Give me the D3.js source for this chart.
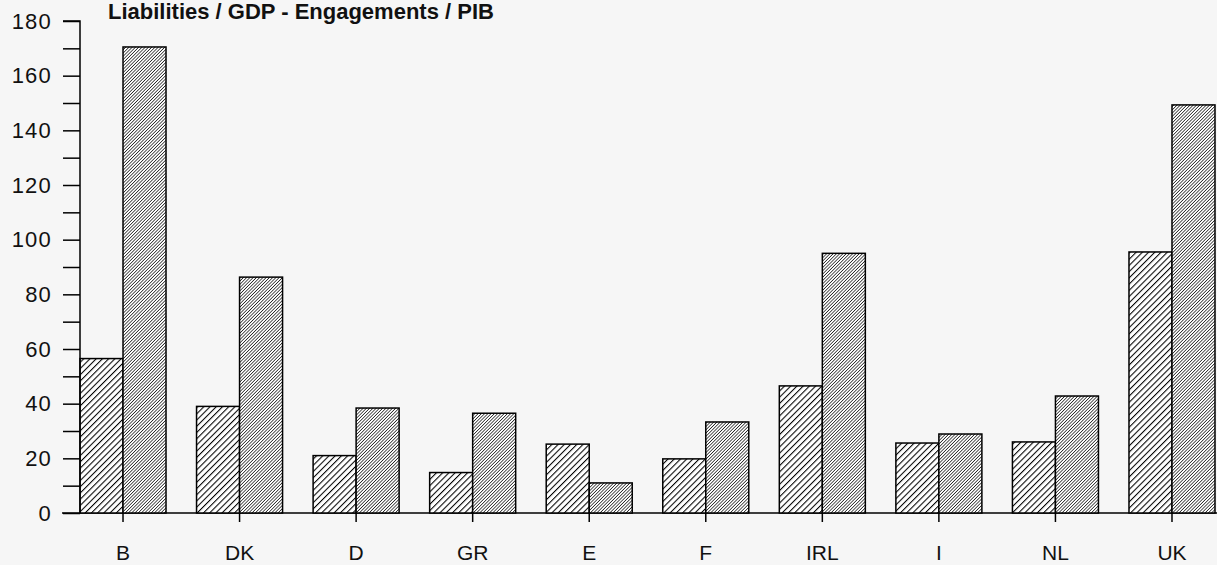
<!DOCTYPE html>
<html>
<head>
<meta charset="utf-8">
<script src="https://cdn.jsdelivr.net/npm/d3@7"></script>
<style>
  html, body { margin: 0; padding: 0; background: #f6f6f6; }
  svg { display: block; }
</style>
</head>
<body>
<svg id="chart" width="1217" height="565"></svg>
<script>
const categories = ["B", "DK", "D", "GR", "E", "F", "IRL", "I", "NL", "UK"];
const seriesA = [56.5, 39, 21, 14.8, 25.2, 19.8, 46.5, 25.6, 26, 95.5];
const seriesB = [170.5, 86.3, 38.4, 36.5, 11, 33.3, 95, 28.9, 42.8, 149.3];
const yTicks = [0, 20, 40, 60, 80, 100, 120, 140, 160, 180];
const minorTicks = [10, 30, 50, 70, 90, 110, 130, 150, 170];
const titleText = "Liabilities / GDP - Engagements / PIB";

const svg = d3.select("#chart");
const W = 1217, H = 565;
const x0 = 80, x1 = 1215, yBase = 513, yTop = 21;
const FONT = "Liberation Sans, Arial, Helvetica, sans-serif";

const defs = svg.append("defs");
function hatch(id, period, sw) {
  const p = defs.append("pattern")
    .attr("id", id)
    .attr("patternUnits", "userSpaceOnUse")
    .attr("width", period).attr("height", period)
    .attr("patternTransform", "rotate(45)");
  p.append("rect").attr("width", period).attr("height", period).attr("fill", "#fff");
  p.append("line").attr("x1", 0).attr("y1", 0).attr("x2", 0).attr("y2", period)
    .attr("stroke", "#000").attr("stroke-width", sw);
}
hatch("hA", 4.4, 2.1);
hatch("hB", 2.3, 1.3);

const x = d3.scaleBand().domain(categories).range([x0, x1]).paddingInner(0.262).paddingOuter(0);
const xs = d3.scaleBand().domain(["a", "b"]).range([0, x.bandwidth()]);
const y = d3.scaleLinear().domain([0, 180]).range([yBase, yTop]);

// baseline
svg.append("line").attr("x1", 62).attr("x2", W).attr("y1", yBase).attr("y2", yBase)
  .attr("stroke", "#000").attr("stroke-width", 1.5);

// bars
const g = svg.append("g");
categories.forEach((c, i) => {
  [["a", seriesA[i], "url(#hA)"], ["b", seriesB[i], "url(#hB)"]].forEach(([k, v, f]) => {
    g.append("rect")
      .attr("x", x(c) + xs(k))
      .attr("y", y(v))
      .attr("width", xs.bandwidth())
      .attr("height", y(0) - y(v))
      .attr("fill", f)
      .attr("stroke", "#000")
      .attr("stroke-width", 1.5);
  });
});

// y axis
const yAxis = d3.axisLeft(y).tickValues(yTicks).tickSize(17).tickPadding(11);
const ya = svg.append("g").attr("transform", `translate(${x0},0)`).call(yAxis);
ya.select(".domain").attr("stroke", "#000").attr("stroke-width", 1.5).attr("d", `M-17,${yTop}H0V${yBase}`);
ya.selectAll(".tick line").attr("stroke", "#000").attr("stroke-width", 1.5);
ya.selectAll(".tick text").attr("font-family", FONT)
  .attr("font-size", 22).attr("letter-spacing", 1.2).attr("fill", "#111");
const yMinor = d3.axisLeft(y).tickValues(minorTicks).tickSize(17).tickFormat("");
const ym = svg.append("g").attr("transform", `translate(${x0},0)`).call(yMinor);
ym.select(".domain").remove();
ym.selectAll(".tick line").attr("stroke", "#000").attr("stroke-width", 1.5);

// x axis
const xAxis = d3.axisBottom(x).tickSize(9).tickPadding(23);
const xa = svg.append("g").attr("transform", `translate(0,${yBase})`).call(xAxis);
xa.select(".domain").remove();
xa.selectAll(".tick line").attr("stroke", "#000").attr("stroke-width", 1.5);
xa.selectAll(".tick text").attr("font-family", FONT)
  .attr("font-size", 21).attr("fill", "#111");

// title
svg.append("text").attr("x", 108).attr("y", 19)
  .attr("font-family", FONT)
  .attr("font-weight", "bold").attr("font-size", 22).attr("fill", "#111")
  .text(titleText);
</script>
</body>
</html>
